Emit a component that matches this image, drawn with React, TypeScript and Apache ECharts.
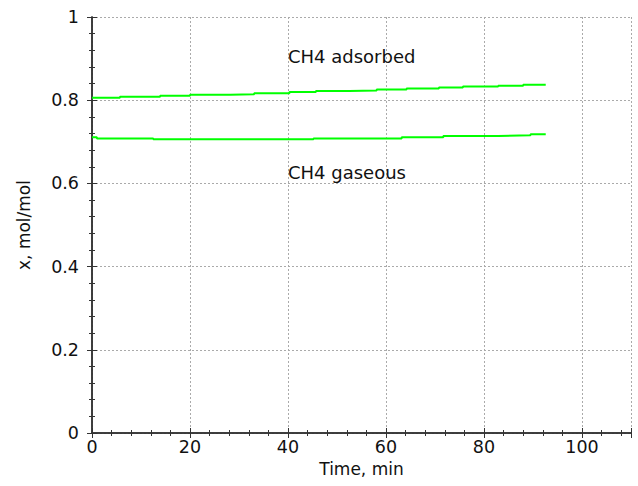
import React, { useEffect, useRef } from "react";
import * as echarts from "echarts";

const adsorbedX = [0, 5.7, 13.9, 20, 28.2, 33.1, 40.3, 45.7, 52.5, 58.1, 64.2, 70.8, 75.7, 82.9, 88, 92.6];
const adsorbedY = [0.806, 0.808, 0.8106, 0.813, 0.8146, 0.817, 0.8195, 0.822, 0.8235, 0.826, 0.828, 0.8307, 0.833, 0.835, 0.837, 0.837];
const gaseousX = [0, 1, 12.5, 45.2, 63.2, 71.7, 82.9, 89.5, 92.6];
const gaseousY = [0.711, 0.708, 0.706, 0.708, 0.711, 0.714, 0.7155, 0.718, 0.718];
const annotations = [
  { x: 40, y: 0.905, text: "CH4 adsorbed" },
  { x: 40, y: 0.627, text: "CH4 gaseous" },
];
const xTitle = "Time, min";
const yTitle = "x, mol/mol";

const FONT = "DejaVu Sans";

export default function App() {
  const ref = useRef<HTMLDivElement>(null);
  useEffect(() => {
    const chart = echarts.init(ref.current!, null, { renderer: "svg" });
    const axisLine = { show: true, lineStyle: { color: "#333", width: 1.5 } };
    const splitLine = { show: true, lineStyle: { color: "#aaa", type: [2, 2] as any, width: 1 } };
    const tick = { show: true, inside: true, length: 5, lineStyle: { color: "#333", width: 1 } };
    const minor = { show: true, splitNumber: 5, length: 3, lineStyle: { color: "#333", width: 1 } };
    const label = { color: "#111", fontSize: 17.5, fontFamily: FONT };
    chart.setOption({
      animation: false,
      grid: { left: 92, right: 7, top: 17, bottom: 53 },
      xAxis: [
        {
          type: "value", min: 0, max: 110, interval: 20,
          axisLine, splitLine, axisTick: tick, minorTick: minor,
          axisLabel: { ...label, margin: 5, showMaxLabel: false },
          name: xTitle, nameLocation: "middle", nameGap: 26,
          nameTextStyle: { color: "#111", fontSize: 17, fontFamily: FONT },
        },
        {
          type: "value", position: "top", min: 0, max: 110, interval: 20,
          axisLine, splitLine: { show: false }, axisTick: tick, minorTick: minor,
          axisLabel: { show: false },
        },
      ],
      yAxis: [
        {
          type: "value", min: 0, max: 1, interval: 0.2,
          axisLine, splitLine, axisTick: tick, minorTick: minor,
          axisLabel: { ...label, margin: 13, formatter: (v: number) => (v === 0 ? "0" : v === 1 ? "1" : v.toFixed(1)) },
          name: yTitle, nameLocation: "middle", nameGap: 60, nameRotate: 90,
          nameTextStyle: { color: "#111", fontSize: 17, fontFamily: FONT },
        },
        {
          type: "value", position: "right", min: 0, max: 1, interval: 0.2,
          axisLine, splitLine: { show: false }, axisTick: tick, minorTick: minor,
          axisLabel: { show: false },
        },
      ],
      series: [
        {
          type: "line", step: "end", symbol: "none",
          lineStyle: { color: "#00ff00", width: 2 },
          data: adsorbedX.map((x, i) => [x, adsorbedY[i]]),
        },
        {
          type: "line", step: "end", symbol: "none",
          lineStyle: { color: "#00ff00", width: 2 },
          data: gaseousX.map((x, i) => [x, gaseousY[i]]),
        },
        {
          type: "scatter", symbolSize: 0,
          itemStyle: { opacity: 1 },
          data: annotations.map((a) => ({ value: [a.x, a.y], name: a.text })),
          label: {
            show: true, position: "right", distance: 0,
            formatter: (p: any) => p.name,
            color: "#111", fontSize: 18, fontFamily: FONT,
          },
          emphasis: { disabled: true },
          silent: true,
        },
      ],
    });
    return () => chart.dispose();
  }, []);
  return <div ref={ref} style={{ position: "absolute", left: 0, top: 0, width: 638, height: 486 }} />;
}
